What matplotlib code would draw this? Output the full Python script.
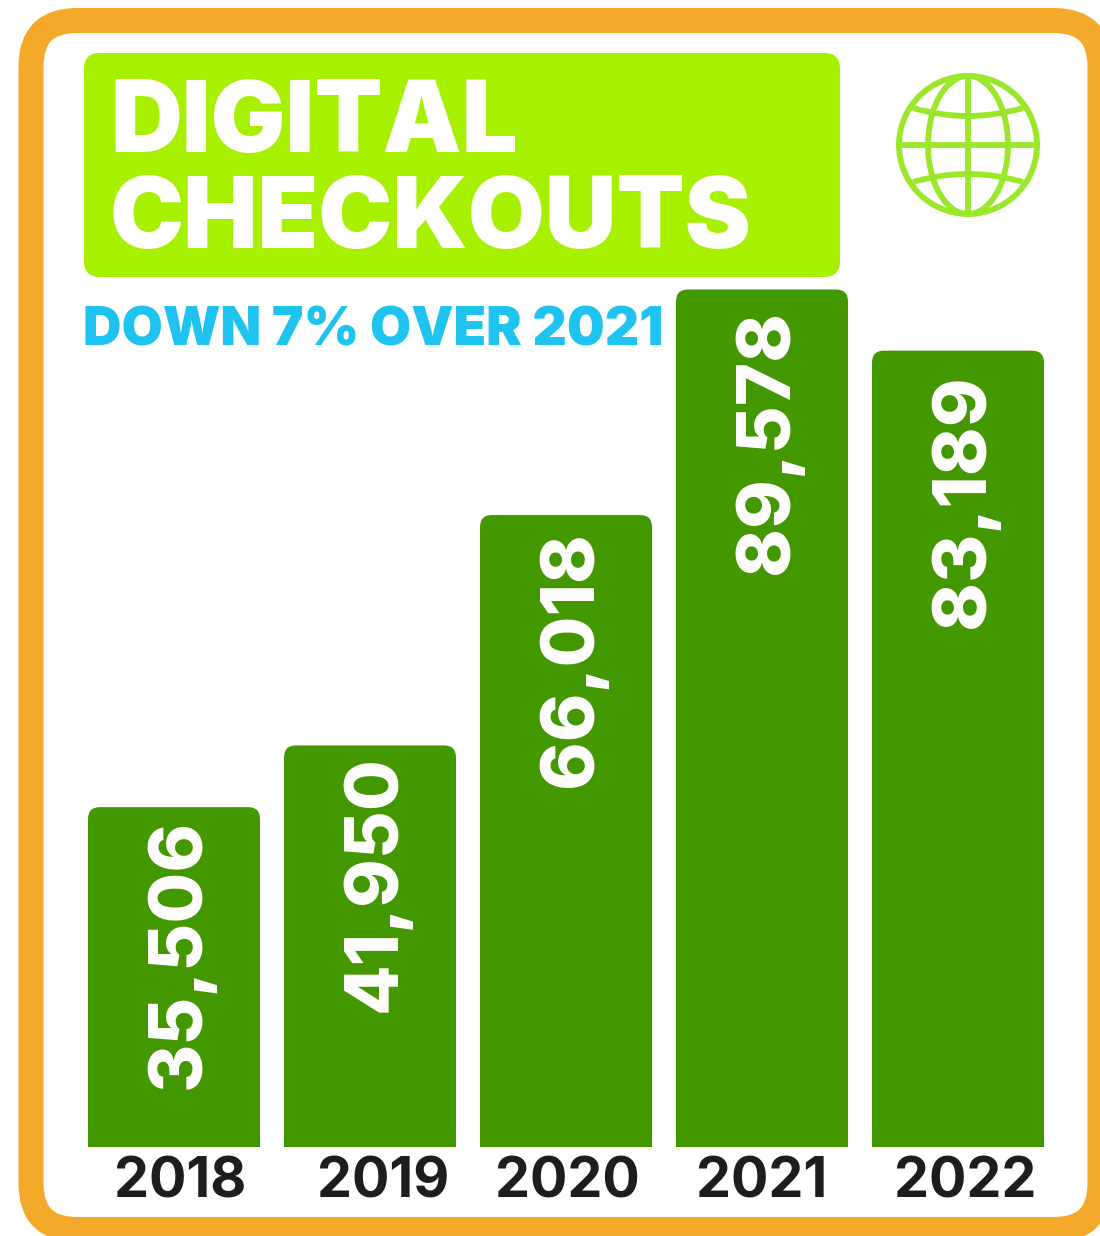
import matplotlib
matplotlib.use("Agg")
import matplotlib.pyplot as plt
from matplotlib.patches import FancyBboxPatch, Ellipse, PathPatch
from matplotlib.path import Path
from matplotlib.transforms import ScaledTranslation
import numpy as np

years = ["2018", "2019", "2020", "2021", "2022"]
checkouts = [35506, 41950, 66018, 89578, 83189]
labels = ["35,506", "41,950", "66,018", "89,578", "83,189"]
title_lines = ["DIGITAL", "CHECKOUTS"]
subtitle = "DOWN 7% OVER 2021"

W, H = 1100, 1236
ORANGE = "#f5a92b"
LIME = "#a6f000"
GREEN = "#439800"
BLUE = "#1fc3f0"
ICON = "#9be82a"
plt.rcParams["font.family"] = ["Inter", "DejaVu Sans"]

fig = plt.figure(figsize=(W / 100, H / 100), dpi=100)

# background layer in pixel coordinates
bg = fig.add_axes([0, 0, 1, 1])
bg.set_xlim(0, W)
bg.set_ylim(H, 0)
bg.axis("off")
bg.add_patch(FancyBboxPatch((31, 20.5), 1069, 1209, boxstyle="round,pad=0,rounding_size=46",
                            fc="white", ec=ORANGE, lw=18))
bg.add_patch(FancyBboxPatch((84, 53), 756, 224, boxstyle="round,pad=0,rounding_size=16",
                            fc=LIME, ec="none"))
for line, y in zip(title_lines, [152, 248]):
    bg.text(110, y, line, color="white", fontsize=71.5, fontweight="black", va="baseline", ha="left")
bg.text(83, 345, subtitle, color=BLUE, fontsize=38.3, fontweight="black", va="baseline", ha="left")

# globe icon
cx, cy, r = 968, 145, 69
lw = 4.2
bg.add_patch(Ellipse((cx, cy), 2 * r, 2 * r, fc="none", ec=ICON, lw=lw))
bg.add_patch(Ellipse((cx, cy), 80, 2 * r, fc="none", ec=ICON, lw=lw))
bg.plot([cx, cx], [cy - r, cy + r], color=ICON, lw=lw)
bg.plot([cx - r, cx + r], [cy, cy], color=ICON, lw=lw)
for sign in [-1, 1]:
    verts = [(cx - 55, cy + sign * 37), (cx, cy + sign * 21), (cx + 55, cy + sign * 37)]
    bg.add_patch(PathPatch(Path(verts, [Path.MOVETO, Path.CURVE3, Path.CURVE3]),
                           fc="none", ec=ICON, lw=lw))

# bars
ax = fig.add_axes([76 / W, 1 - 1147 / H, 980 / W, 857.5 / H])
ax.patch.set_alpha(0)
ax.set_xlim(-0.5, 4.5)
ax.set_ylim(0, 89578)
x = np.arange(len(years))
bars = ax.bar(x, checkouts, width=172 / 196, color="none")
units_per_px_x = 5 / 980
units_per_px_y = 89578 / 857.5
rad = 12 * units_per_px_x
for bar in bars:
    box = FancyBboxPatch((bar.get_x(), -5000), bar.get_width(), bar.get_height() + 5000,
                         boxstyle=f"round,pad=0,rounding_size={rad}",
                         mutation_aspect=units_per_px_y / units_per_px_x,
                         fc=GREEN, ec="none")
    ax.add_patch(box)
    box.set_clip_path(ax.patch)
tops = [12, 10, 16, 20, 24]
for xi, v, lab, top in zip(x, checkouts, labels, tops):
    ax.annotate(lab, (xi, v), xytext=(6 * 0.72, -top * 0.72), textcoords="offset points",
                rotation=90, ha="center", va="top", color="white", fontsize=53, fontweight=800)
for s in ax.spines.values():
    s.set_visible(False)
ax.set_xticks(x, years)
ax.tick_params(length=0, pad=7)
ax.set_yticks([])
for t, dx in zip(ax.get_xticklabels(), [6, 13, 1, 0, 7]):
    t.set_fontsize(40)
    t.set_fontweight("bold")
    t.set_color("#1d1d1b")
    t.set_transform(t.get_transform() + ScaledTranslation(dx / 100, 0, fig.dpi_scale_trans))
fig.savefig("out.png", dpi=100)
